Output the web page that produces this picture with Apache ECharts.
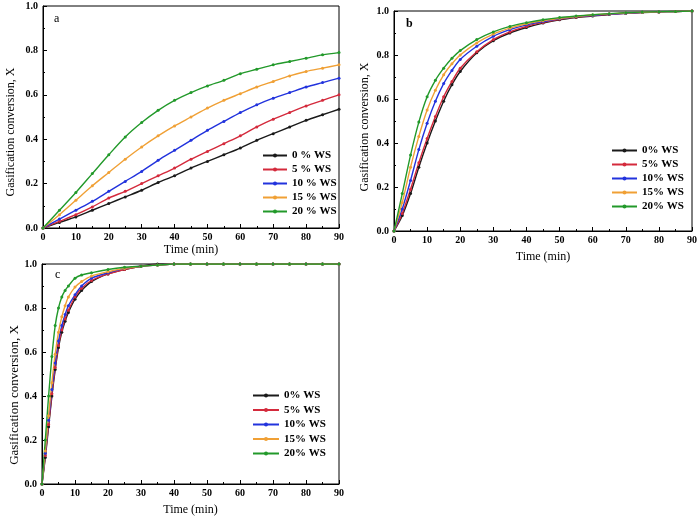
<!DOCTYPE html>
<html><head><meta charset="utf-8">
<script src="https://cdn.jsdelivr.net/npm/echarts@6/dist/echarts.min.js"></script>
<style>html,body{margin:0;padding:0;background:#fff}#c{width:700px;height:517px}</style>
</head><body><div id="c"></div>
<script>
// ---------- data ----------
const seriesNamesA = ['0 % WS','5 % WS','10 % WS','15 % WS','20 % WS'];
const seriesNamesBC = ['0% WS','5% WS','10% WS','15% WS','20% WS'];
const colors = ['#1a1a1a','#d42a3c','#2233dd','#f0a035','#22992a'];

const timeA = [0,5,10,15,20,25,30,35,40,45,50,55,60,65,70,75,80,85,90];
const a0  = [0,0.025,0.05,0.08,0.11,0.14,0.17,0.205,0.235,0.27,0.30,0.33,0.36,0.395,0.425,0.455,0.485,0.51,0.535];
const a5  = [0,0.03,0.06,0.095,0.135,0.165,0.20,0.235,0.27,0.31,0.345,0.38,0.415,0.455,0.49,0.52,0.55,0.575,0.60];
const a10 = [0,0.04,0.08,0.12,0.165,0.21,0.255,0.305,0.35,0.395,0.44,0.48,0.52,0.555,0.585,0.61,0.635,0.655,0.675];
const a15 = [0,0.06,0.125,0.19,0.25,0.31,0.365,0.415,0.46,0.50,0.54,0.575,0.605,0.635,0.66,0.685,0.705,0.72,0.735];
const a20 = [0,0.08,0.16,0.245,0.33,0.41,0.475,0.53,0.575,0.61,0.64,0.665,0.695,0.715,0.735,0.75,0.765,0.78,0.79];

const timeB = [0,2.5,5,7.5,10,12.5,15,17.5,20,25,30,35,40,45,50,55,60,65,70,75,80,85,90];
const b0  = [0,0.07,0.17,0.29,0.40,0.50,0.59,0.665,0.725,0.81,0.865,0.90,0.925,0.945,0.96,0.97,0.977,0.984,0.989,0.993,0.996,0.998,1.0];
const b5  = [0,0.08,0.19,0.31,0.42,0.52,0.61,0.68,0.74,0.815,0.87,0.905,0.93,0.948,0.962,0.972,0.979,0.985,0.99,0.994,0.996,0.998,1.0];
const b10 = [0,0.10,0.23,0.37,0.49,0.59,0.67,0.73,0.78,0.84,0.885,0.915,0.937,0.952,0.965,0.974,0.98,0.986,0.99,0.994,0.996,0.998,1.0];
const b15 = [0,0.13,0.29,0.43,0.55,0.64,0.71,0.76,0.80,0.855,0.895,0.922,0.942,0.956,0.967,0.975,0.982,0.987,0.991,0.994,0.996,0.998,1.0];
const b20 = [0,0.17,0.345,0.495,0.61,0.685,0.74,0.785,0.82,0.87,0.905,0.93,0.947,0.96,0.97,0.977,0.983,0.988,0.992,0.995,0.997,0.998,1.0];

const timeC = [0,1,2,3,4,5,6,7,8,10,12,15,20,25,30,35,40,45,50,55,60,65,70,75,80,85,90];
const c0  = [0,0.12,0.26,0.40,0.52,0.62,0.69,0.74,0.78,0.84,0.88,0.92,0.955,0.975,0.99,1.0,1.0,1.0,1.0,1.0,1.0,1.0,1.0,1.0,1.0,1.0,1.0];
const c5  = [0,0.13,0.27,0.41,0.53,0.63,0.70,0.75,0.79,0.85,0.89,0.925,0.955,0.975,0.99,0.995,1.0,1.0,1.0,1.0,1.0,1.0,1.0,1.0,1.0,1.0,1.0];
const c10 = [0,0.14,0.29,0.43,0.55,0.65,0.72,0.77,0.81,0.86,0.90,0.935,0.96,0.98,0.99,0.995,1.0,1.0,1.0,1.0,1.0,1.0,1.0,1.0,1.0,1.0,1.0];
const c15 = [0,0.15,0.31,0.46,0.59,0.69,0.76,0.81,0.85,0.895,0.92,0.945,0.965,0.98,0.99,0.995,1.0,1.0,1.0,1.0,1.0,1.0,1.0,1.0,1.0,1.0,1.0];
const c20 = [0,0.20,0.40,0.58,0.72,0.80,0.85,0.88,0.90,0.935,0.95,0.96,0.975,0.985,0.99,0.995,1.0,1.0,1.0,1.0,1.0,1.0,1.0,1.0,1.0,1.0,1.0];

const panelLabels = ['a','b','c'];

// ---------- chart ----------
const serif = 'Liberation Serif';
const grids = [
  {left:43, top:6, width:296, height:222},
  {left:394, top:11, width:299, height:220},
  {left:42, top:264, width:297, height:220}
];
const xNameGap = [16, 20, 20];
const yNameGap = [26, 23, 16];
const yNameSize = [12, 12, 13];
const yNamePad = [[0,30,0,0],[0,12,0,0],[0,42,0,0]];
const legends = [
  {left:257, top:145, itemWidth:24, itemGap:3},
  {left:606, top:140, itemWidth:25, itemGap:3},
  {left:247, top:385, itemWidth:26, itemGap:3.5}
];
const labelPos = [[49,8,'normal'],[401,13,'bold'],[50,264,'normal']];
const panels = [
  {t:timeA, d:[a0,a5,a10,a15,a20], names:seriesNamesA},
  {t:timeB, d:[b0,b5,b10,b15,b20], names:seriesNamesBC},
  {t:timeC, d:[c0,c5,c10,c15,c20], names:seriesNamesBC}
];

const option = {
  backgroundColor:'#fff',
  animation:false,
  title: panelLabels.map((s,i)=>({text:s, left:labelPos[i][0], top:labelPos[i][1],
    textStyle:{fontFamily:serif, fontSize:12, fontWeight:labelPos[i][2], color:'#000'}})),
  grid: grids.map(g=>Object.assign({show:true, borderColor:'#000', borderWidth:1, backgroundColor:'transparent'}, g)),
  xAxis: grids.map((g,i)=>({
    type:'value', gridIndex:i, min:0, max:90, interval:10,
    name:'Time (min)', nameLocation:'middle', nameGap:xNameGap[i],
    nameTextStyle:{fontFamily:serif, fontSize:12, fontWeight:'normal', color:'#000'},
    axisLine:{show:true, lineStyle:{color:'#000', width:1}},
    axisTick:{show:true, inside:true, length:4, lineStyle:{color:'#000'}},
    minorTick:{show:true, splitNumber:2, length:2, lineStyle:{color:'#000'}},
    splitLine:{show:false},
    axisLabel:{fontFamily:serif, fontSize:10, fontWeight:'bold', color:'#000', margin:4}
  })),
  yAxis: grids.map((g,i)=>({
    type:'value', gridIndex:i, min:0, max:1, interval:0.2,
    name:'Gasification conversion, X', nameLocation:'middle', nameGap:yNameGap[i],
    nameTextStyle:{fontFamily:serif, fontSize:yNameSize[i], fontWeight:'normal', color:'#000', padding:yNamePad[i]},
    axisLine:{show:true, lineStyle:{color:'#000', width:1}},
    axisTick:{show:true, inside:true, length:4, lineStyle:{color:'#000'}},
    minorTick:{show:true, splitNumber:2, length:2, lineStyle:{color:'#000'}},
    splitLine:{show:false},
    axisLabel:{fontFamily:serif, fontSize:10, fontWeight:'bold', color:'#000', margin:5,
      formatter:v=>v.toFixed(1)}
  })),
  legend: legends.map((l,i)=>Object.assign({
    orient:'vertical', itemHeight:5, data:panels[i].names,
    textStyle:{fontFamily:serif, fontSize:11, fontWeight:'bold', color:'#000'}
  }, l)),
  series: []
};
panels.forEach((p,pi)=>{
  p.d.forEach((vals,si)=>{
    option.series.push({
      type:'line', name:p.names[si], xAxisIndex:pi, yAxisIndex:pi,
      data:p.t.map((t,k)=>[t, vals[k]]),
      smooth:0.3, symbol:'circle', symbolSize:3, showSymbol:true,
      color:colors[si],
      lineStyle:{width:1.4, color:colors[si]},
      itemStyle:{color:colors[si]}
    });
  });
});
const chart = echarts.init(document.getElementById('c'), null, {renderer:'canvas'});
chart.setOption(option);
</script></body></html>
